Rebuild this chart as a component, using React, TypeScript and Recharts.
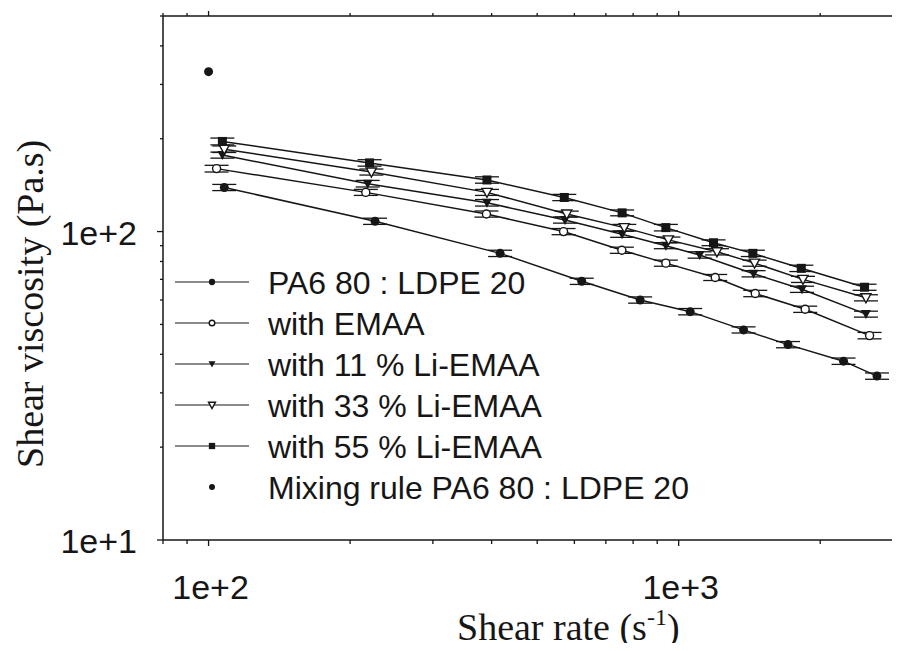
import React from 'react'
import {
  ScatterChart,
  Scatter,
  XAxis,
  YAxis,
  ErrorBar,
  Legend,
  Label
} from 'recharts'

// shear rate (1/s) and shear viscosity (Pa.s)
const rate55 = [107, 220, 391, 571, 758, 939, 1186, 1438, 1823, 2485]
const eta55 = [196, 167, 147, 129, 115, 103, 92, 85, 76, 66]
const err55 = [5, 4, 3.5, 3, 2.5, 2.5, 2, 2, 1.8, 1.5]

const rate33 = [108, 222, 391, 578, 766, 951, 1206, 1450, 1838, 2502]
const eta33 = [185, 156, 134, 114, 103, 94, 86, 79, 70, 61]
const err33 = [4.5, 3.5, 3, 2.5, 2.5, 2, 2, 1.8, 1.6, 1.4]

const rate11 = [107, 218, 391, 573, 758, 939, 1108, 1443, 1829, 2502]
const eta11 = [177, 143, 124, 109, 98, 90, 84, 73, 65, 54]
const err11 = [4, 3.5, 3, 2.5, 2.2, 2, 2, 1.7, 1.5, 1.2]

const rateEmaa = [104, 216, 390, 569, 757, 939, 1196, 1455, 1858, 2547]
const etaEmaa = [160, 134, 114, 100, 87, 79, 71, 63, 56, 46]
const errEmaa = [4, 3, 2.6, 2.3, 2, 1.8, 1.6, 1.5, 1.3, 1.1]

const ratePa6 = [108, 226, 417, 622, 828, 1058, 1374, 1708, 2242, 2641]
const etaPa6 = [139, 108, 85, 69, 60, 55, 48, 43, 38, 34]
const errPa6 = [3.2, 2.5, 2, 1.6, 1.4, 1.3, 1.1, 1, 0.9, 0.8]

const rateMix = [100]
const etaMix = [330]

const xTicks = [80, 90, 100, 200, 300, 400, 500, 600, 700, 800, 900, 1000, 2000, 3000]
const yTicks = [10, 20, 30, 40, 50, 60, 70, 80, 90, 100, 200, 300, 400, 500]
const majorTicks = [10, 100, 1000]

const legendLabels = [
  'PA6 80 : LDPE 20',
  'with EMAA',
  'with 11 % Li-EMAA',
  'with 33 % Li-EMAA',
  'with 55 % Li-EMAA',
  'Mixing rule PA6 80 : LDPE 20'
]

const INK = '#161616'
const SANS = '"Liberation Sans", Arial, sans-serif'
const SERIF = '"Liberation Serif", "Times New Roman", serif'

const toPoints = (xs: number[], ys: number[], errs?: number[]) =>
  xs.map((x, i) => ({ x, y: ys[i], err: errs ? errs[i] : 0 }))

const expLabel = (v: number) => `1e+${Math.round(Math.log10(v))}`

// marker shapes
const drawMarker = (kind: string, cx: number, cy: number, s = 1) => {
  switch (kind) {
    case 'dot':
      return <circle cx={cx} cy={cy} r={4.5 * s} fill={INK} />
    case 'ring':
      return <circle cx={cx} cy={cy} r={4 * s} fill="#fff" stroke={INK} strokeWidth={1.4} />
    case 'tri':
      return (
        <polygon
          points={`${cx - 5 * s},${cy - 4 * s} ${cx + 5 * s},${cy - 4 * s} ${cx},${cy + 5 * s}`}
          fill={INK}
        />
      )
    case 'triOpen':
      return (
        <polygon
          points={`${cx - 5 * s},${cy - 4 * s} ${cx + 5 * s},${cy - 4 * s} ${cx},${cy + 5 * s}`}
          fill="#fff"
          stroke={INK}
          strokeWidth={1.4}
        />
      )
    case 'square':
      return <rect x={cx - 4.5 * s} y={cy - 4.5 * s} width={9 * s} height={9 * s} fill={INK} />
    default:
      return <circle cx={cx} cy={cy} r={3 * s} fill={INK} />
  }
}

const shapeOf = (kind: string) => (p: any) => drawMarker(kind, p.cx, p.cy)

const BottomTick = (props: any) => {
  const { x, y, payload } = props
  const major = majorTicks.includes(payload.value)
  return (
    <g>
      <line x1={x} x2={x} y1={y} y2={y + (major ? 6 : 4)} stroke={INK} strokeWidth={1.3} />
      {major && (
        <text x={x + 2} y={y + 59} textAnchor="middle" fontFamily={SANS} fontSize={34} fill={INK}>
          {expLabel(payload.value)}
        </text>
      )}
    </g>
  )
}

const TopTick = (props: any) => {
  const { x, y, payload } = props
  const major = majorTicks.includes(payload.value)
  return <line x1={x} x2={x} y1={y} y2={y - (major ? 5 : 3)} stroke={INK} strokeWidth={1.3} />
}

const LeftTick = (props: any) => {
  const { x, y, payload } = props
  const major = majorTicks.includes(payload.value)
  return (
    <g>
      <line x1={x} x2={x - (major ? 6 : 3)} y1={y} y2={y} stroke={INK} strokeWidth={1.3} />
      {major && (
        <text x={x - 26} y={y + 13} textAnchor="end" fontFamily={SANS} fontSize={34} fill={INK}>
          {expLabel(payload.value)}
        </text>
      )}
    </g>
  )
}

const legendKinds = ['dot', 'ring', 'tri', 'triOpen', 'square', 'mix']

const LegendBox = () => (
  <svg width={910} height={651} style={{ position: 'absolute', left: 0, top: 0 }}>
    {legendLabels.map((label, i) => {
      const cy = 282 + i * 41
      const kind = legendKinds[i]
      return (
        <g key={label}>
          {kind !== 'mix' && (
            <line x1={175} x2={249} y1={cy} y2={cy} stroke={INK} strokeWidth={1.2} />
          )}
          {kind === 'mix'
            ? <circle cx={212} cy={cy} r={3} fill={INK} />
            : drawMarker(kind, 212, cy, 0.7)}
          <text x={268} y={cy + 11.5} fontFamily={SANS} fontSize={32} fill={INK}>
            {label}
          </text>
        </g>
      )
    })}
  </svg>
)

const lineStyle = { stroke: INK, strokeWidth: 1.5 }

export default function App() {
  return (
    <div style={{ margin: -8, width: 900, height: 651, overflow: 'hidden', background: '#fff' }}>
      <ScatterChart width={910} height={651} margin={{ top: 6, right: 7, bottom: 0, left: 0 }}>
        <XAxis
          dataKey="x"
          type="number"
          scale="log"
          domain={[80, 3000]}
          allowDataOverflow
          ticks={xTicks}
          interval={0}
          height={111}
          tickSize={0}
          tickMargin={0}
          tick={<BottomTick />}
          axisLine={{ stroke: INK, strokeWidth: 1.5 }}
        >
          <Label
            content={(p: any) => {
              const vb = p.viewBox
              return (
                <text x={vb.x + 294} y={vb.y + 100} fontFamily={SERIF} fontSize={38} fill={INK}>
                  Shear rate (s
                  <tspan fontSize={24} dy={-15}>-1</tspan>
                  <tspan dy={15}>)</tspan>
                </text>
              )
            }}
          />
        </XAxis>
        <XAxis
          xAxisId="top"
          orientation="top"
          dataKey="x"
          type="number"
          scale="log"
          domain={[80, 3000]}
          allowDataOverflow
          ticks={xTicks}
          interval={0}
          height={10}
          tickSize={0}
          tickMargin={0}
          tick={<TopTick />}
          axisLine={{ stroke: INK, strokeWidth: 1.5 }}
        />
        <YAxis
          dataKey="y"
          type="number"
          scale="log"
          domain={[10, 500]}
          allowDataOverflow
          ticks={yTicks}
          interval={0}
          width={163}
          tickSize={0}
          tickMargin={0}
          tick={<LeftTick />}
          axisLine={{ stroke: INK, strokeWidth: 1.5 }}
        >
          <Label
            content={(p: any) => {
              const vb = p.viewBox
              const x = vb.x + 43
              const y = 468
              return (
                <text
                  x={x}
                  y={y}
                  transform={`rotate(-90 ${x} ${y})`}
                  fontFamily={SERIF}
                  fontSize={38}
                  fill={INK}
                >
                  Shear viscosity (Pa.s)
                </text>
              )
            }}
          />
        </YAxis>
        <Legend
          layout="vertical"
          align="center"
          verticalAlign="middle"
          wrapperStyle={{ left: 0, top: 0, width: 910, height: 651, pointerEvents: 'none' }}
          content={() => <LegendBox />}
        />
        <Scatter
          name="PA6 80 : LDPE 20"
          data={toPoints(ratePa6, etaPa6, errPa6)}
          line={lineStyle}
          shape={shapeOf('dot')}
          isAnimationActive={false}
        >
          <ErrorBar dataKey="err" direction="y" width={12} stroke={INK} strokeWidth={1.3} isAnimationActive={false} />
        </Scatter>
        <Scatter
          name="with EMAA"
          data={toPoints(rateEmaa, etaEmaa, errEmaa)}
          line={lineStyle}
          shape={shapeOf('ring')}
          isAnimationActive={false}
        >
          <ErrorBar dataKey="err" direction="y" width={12} stroke={INK} strokeWidth={1.3} isAnimationActive={false} />
        </Scatter>
        <Scatter
          name="with 11 % Li-EMAA"
          data={toPoints(rate11, eta11, err11)}
          line={lineStyle}
          shape={shapeOf('tri')}
          isAnimationActive={false}
        >
          <ErrorBar dataKey="err" direction="y" width={12} stroke={INK} strokeWidth={1.3} isAnimationActive={false} />
        </Scatter>
        <Scatter
          name="with 33 % Li-EMAA"
          data={toPoints(rate33, eta33, err33)}
          line={lineStyle}
          shape={shapeOf('triOpen')}
          isAnimationActive={false}
        >
          <ErrorBar dataKey="err" direction="y" width={12} stroke={INK} strokeWidth={1.3} isAnimationActive={false} />
        </Scatter>
        <Scatter
          name="with 55 % Li-EMAA"
          data={toPoints(rate55, eta55, err55)}
          line={lineStyle}
          shape={shapeOf('square')}
          isAnimationActive={false}
        >
          <ErrorBar dataKey="err" direction="y" width={12} stroke={INK} strokeWidth={1.3} isAnimationActive={false} />
        </Scatter>
        <Scatter
          name="Mixing rule PA6 80 : LDPE 20"
          data={toPoints(rateMix, etaMix)}
          shape={shapeOf('dot')}
          isAnimationActive={false}
        />
      </ScatterChart>
    </div>
  )
}
